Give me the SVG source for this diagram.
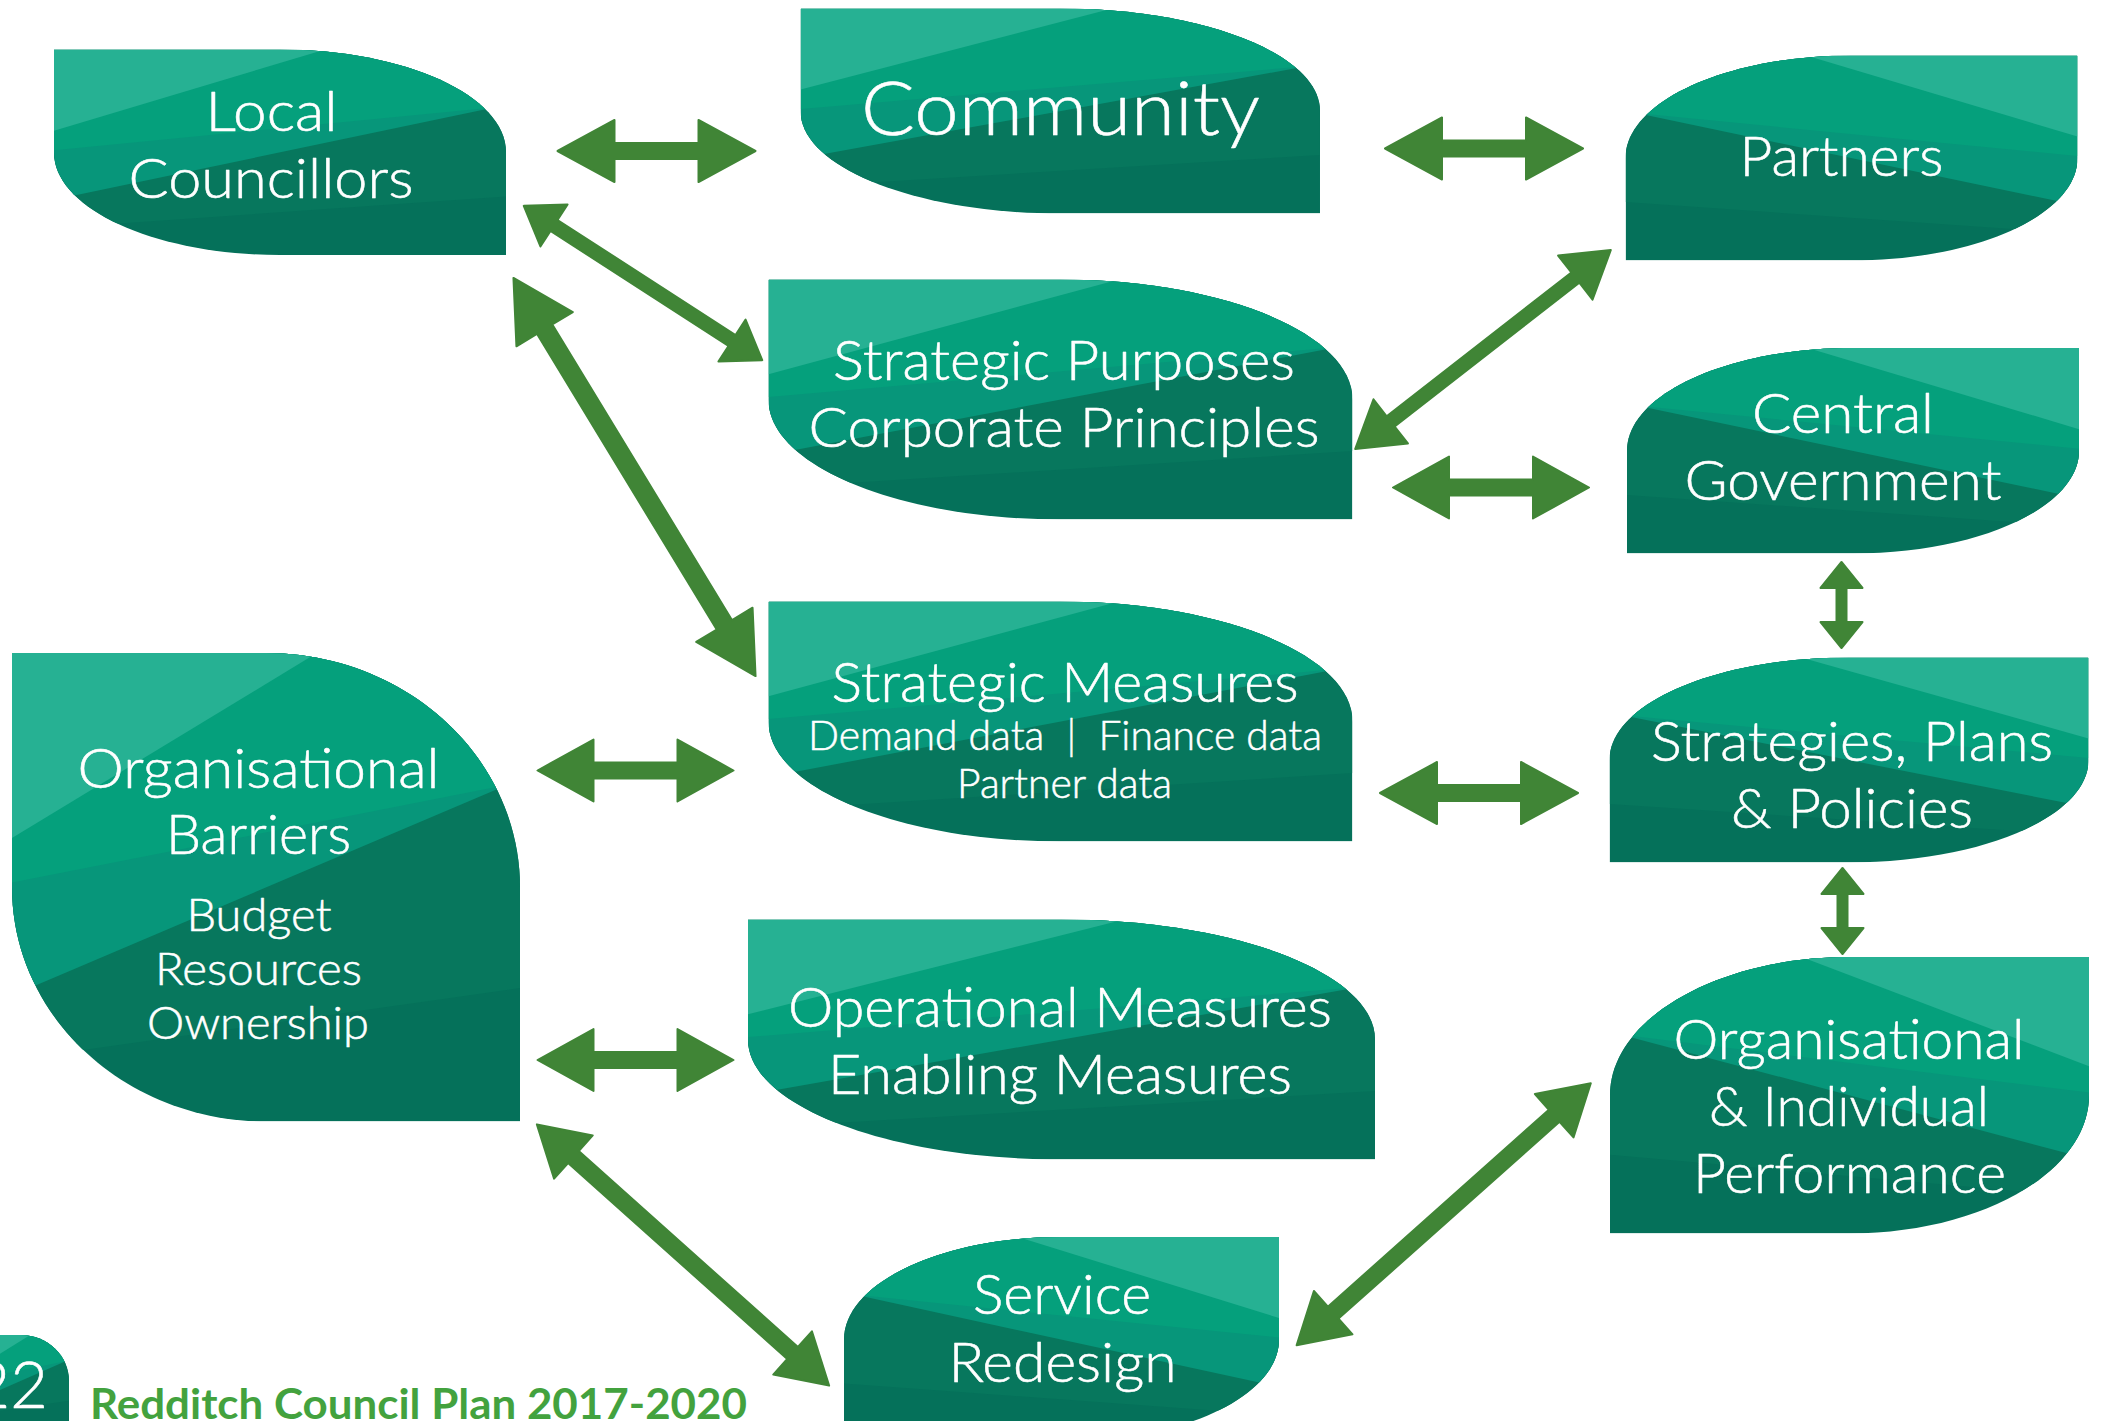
<svg xmlns="http://www.w3.org/2000/svg" width="2103" height="1421" viewBox="0 0 2103 1421">
<style>
text{font-family:"Lato","Liberation Sans",sans-serif;font-weight:300;fill:#fff;stroke:#fff;stroke-width:.55;stroke-linejoin:round;text-anchor:middle}
.t72{font-size:75px}.t53{font-size:55px}.t44{font-size:45px}.t40{font-size:41px}
.arrow{fill:#408536;stroke:#408536;stroke-width:2;stroke-linejoin:round}
.foot{font-weight:700;font-size:42px;fill:#43a23e;stroke:none;text-anchor:start}
</style>
<defs>
<clipPath id="leafClip"><path d="M0,0H50C77.6,0 100,22.4 100,50V100H50C22.4,100 0,77.6 0,50Z"/></clipPath>
<g id="leaf" clip-path="url(#leafClip)">
<rect width="100" height="100" fill="#05715a"/>
<polygon points="0,0 100,0 100,71.5 0,86.9" fill="#07775d"/>
<polygon points="0,0 100,0 100,27 0,73.1" fill="#07967a"/>
<polygon points="0,0 100,0 100,27.6 0,49" fill="#05a07c"/>
<polygon points="0,0 60,0 0,39.5" fill="#26b193"/>
</g>
</defs>
<rect width="2103" height="1421" fill="#fff"/>

<g id="connectors">
<polygon class="arrow" transform="translate(656.5 151)" points="-99,0 -42,-31 -42,-8 42,-8 42,-31 99,0 42,31 42,8 -42,8 -42,31"/>
<polygon class="arrow" transform="translate(1484 148.5)" points="-99,0 -42,-31 -42,-8 42,-8 42,-31 99,0 42,31 42,8 -42,8 -42,31"/>
<polygon class="arrow" transform="translate(1491 487.5)" points="-98,0 -42,-31 -42,-8 42,-8 42,-31 98,0 42,31 42,8 -42,8 -42,31"/>
<polygon class="arrow" transform="translate(1479 793)" points="-99,0 -42,-31 -42,-8 42,-8 42,-31 99,0 42,31 42,8 -42,8 -42,31"/>
<polygon class="arrow" transform="translate(635.5 770.5)" points="-98,0 -42,-31 -42,-8 42,-8 42,-31 98,0 42,31 42,8 -42,8 -42,31"/>
<polygon class="arrow" transform="translate(635.5 1060)" points="-98,0 -42,-31 -42,-8 42,-8 42,-31 98,0 42,31 42,8 -42,8 -42,31"/>
<polygon class="arrow" transform="translate(1841.5 605) rotate(90)" points="-43,0 -17,-21 -17,-5 17,-5 17,-21 43,0 17,21 17,5 -17,5 -17,21"/>
<polygon class="arrow" transform="translate(1842.5 911) rotate(90)" points="-43,0 -17,-21 -17,-5 17,-5 17,-21 43,0 17,21 17,5 -17,5 -17,21"/>
<polygon class="arrow" transform="translate(643 283) rotate(32.9)" points="-142,0 -106,-25 -106,-6.5 106,-6.5 106,-25 142,0 106,25 106,6.5 -106,6.5 -106,25"/>
<polygon class="arrow" transform="translate(634.5 477) rotate(58.7)" points="-233,0 -173,-33 -173,-9 173,-9 173,-33 233,0 173,33 173,9 -173,9 -173,33"/>
<polygon class="arrow" transform="translate(1483 349.5) rotate(-37.9)" points="-162,0 -117,-28 -117,-6.5 117,-6.5 117,-28 162,0 117,28 117,6.5 -117,6.5 -117,28"/>
<polygon class="arrow" transform="translate(683 1255) rotate(41.8)" points="-196,0 -147,-29 -147,-8 147,-8 147,-29 196,0 147,29 147,8 -147,8 -147,29"/>
<polygon class="arrow" transform="translate(1443.7 1214.2) rotate(-41.7)" points="-197,0 -148,-29 -148,-8 148,-8 148,-29 197,0 148,29 148,8 -148,8 -148,29"/>
</g>

<g id="local-councillors">
<use href="#leaf" transform="translate(54 49.5) scale(4.52 2.055)"/>
<text class="t53" x="271.5" y="130.5" textLength="132" lengthAdjust="spacingAndGlyphs">Local</text>
<text class="t53" x="271" y="197.5" textLength="285" lengthAdjust="spacingAndGlyphs">Councillors</text>
</g>
<g id="community">
<use href="#leaf" transform="translate(800.6 8.5) scale(5.194 2.05)"/>
<text class="t72" x="1060.5" y="134.5" textLength="399" lengthAdjust="spacingAndGlyphs">Community</text>
</g>
<g id="partners">
<use href="#leaf" transform="translate(2077.5 55.5) scale(-4.52 2.05)"/>
<text class="t53" x="1841.5" y="175.5" textLength="204" lengthAdjust="spacingAndGlyphs">Partners</text>
</g>
<g id="strategic-purposes">
<use href="#leaf" transform="translate(768.5 279.5) scale(5.84 2.4)"/>
<text class="t53" x="1064" y="379.5" textLength="462" lengthAdjust="spacingAndGlyphs">Strategic Purposes</text>
<text class="t53" x="1064" y="446.5" textLength="511" lengthAdjust="spacingAndGlyphs">Corporate Principles</text>
</g>
<g id="central-government">
<use href="#leaf" transform="translate(2079 348) scale(-4.52 2.055)"/>
<text class="t53" x="1843" y="432.5" textLength="182" lengthAdjust="spacingAndGlyphs">Central</text>
<text class="t53" x="1843" y="499.5" textLength="317" lengthAdjust="spacingAndGlyphs">Government</text>
</g>
<g id="strategic-measures">
<use href="#leaf" transform="translate(768.5 601.5) scale(5.84 2.4)"/>
<text class="t53" x="1065" y="701.5" textLength="467" lengthAdjust="spacingAndGlyphs">Strategic Measures</text>
<text class="t40" x="1065" y="749.5" textLength="514" lengthAdjust="spacingAndGlyphs" xml:space="preserve">Demand data  |  Finance data</text>
<text class="t40" x="1064.5" y="797.5" textLength="215" lengthAdjust="spacingAndGlyphs">Partner data</text>
</g>
<g id="strategies-plans-policies">
<use href="#leaf" transform="translate(2088.5 657.5) scale(-4.79 2.05)"/>
<text class="t53" x="1852" y="761" textLength="402" lengthAdjust="spacingAndGlyphs">Strategies, Plans</text>
<text class="t53" x="1852" y="828" textLength="242" lengthAdjust="spacingAndGlyphs">&amp; Policies</text>
</g>
<g id="organisational-barriers">
<use href="#leaf" transform="translate(12 653) scale(5.08 4.685)"/>
<text class="t53" x="258.5" y="787.5" textLength="362" lengthAdjust="spacingAndGlyphs">Organisational</text>
<text class="t53" x="258.5" y="854" textLength="185" lengthAdjust="spacingAndGlyphs">Barriers</text>
<text class="t44" x="259" y="931" textLength="145" lengthAdjust="spacingAndGlyphs">Budget</text>
<text class="t44" x="258.5" y="985" textLength="207" lengthAdjust="spacingAndGlyphs">Resources</text>
<text class="t44" x="258" y="1038.5" textLength="222" lengthAdjust="spacingAndGlyphs">Ownership</text>
</g>
<g id="operational-measures">
<use href="#leaf" transform="translate(748 919.5) scale(6.27 2.4)"/>
<text class="t53" x="1060" y="1026.5" textLength="544" lengthAdjust="spacingAndGlyphs">Operational Measures</text>
<text class="t53" x="1060" y="1093.5" textLength="464" lengthAdjust="spacingAndGlyphs">Enabling Measures</text>
</g>
<g id="organisational-individual-performance">
<use href="#leaf" transform="translate(2089 957) scale(-4.79 2.765)"/>
<text class="t53" x="1849" y="1058.5" textLength="351" lengthAdjust="spacingAndGlyphs">Organisational</text>
<text class="t53" x="1849" y="1125.5" textLength="280" lengthAdjust="spacingAndGlyphs">&amp; Individual</text>
<text class="t53" x="1849.5" y="1193" textLength="313" lengthAdjust="spacingAndGlyphs">Performance</text>
</g>
<g id="service-redesign">
<use href="#leaf" transform="translate(1279 1237) scale(-4.35 2.05)"/>
<text class="t53" x="1062" y="1313.5" textLength="178" lengthAdjust="spacingAndGlyphs">Service</text>
<text class="t53" x="1062.5" y="1381.5" textLength="228" lengthAdjust="spacingAndGlyphs">Redesign</text>
</g>
<g id="page-number">
<use href="#leaf" transform="translate(-28 1335) scale(0.97 0.92)"/>
<text x="48" y="1408" style="font-size:65px;text-anchor:end">22</text>
</g>
<text class="foot" x="90" y="1418.5" textLength="657" lengthAdjust="spacingAndGlyphs">Redditch Council Plan 2017-2020</text>
</svg>
